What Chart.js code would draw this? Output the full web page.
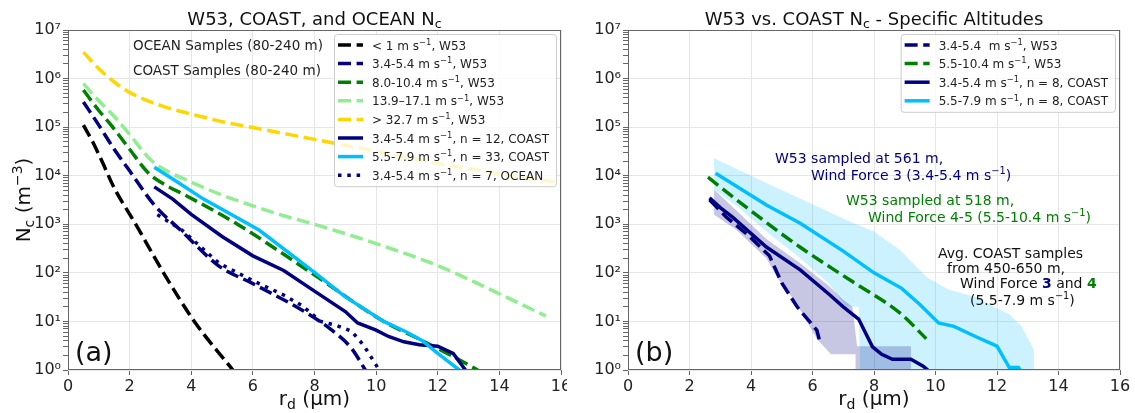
<!DOCTYPE html>
<html lang="en">
<head>
<meta charset="UTF-8">
<title>W53, COAST, and OCEAN Nc</title>
<script src="https://cdn.jsdelivr.net/npm/chart.js"></script>
<style>
  html, body { margin: 0; padding: 0; background: #fff; }
  body { width: 1135px; height: 413px; overflow: hidden; position: relative; }
  canvas { position: absolute; top: 0; }
  #chartA { left: 0; }
  #chartB { left: 567px; }
</style>
</head>
<body>
<canvas id="chartA" width="567" height="413"></canvas>
<canvas id="chartB" width="568" height="413"></canvas>
<script>
// ---- axes ----
const xTicks = [0, 2, 4, 6, 8, 10, 12, 14, 16];
const decades = [1, 10, 100, 1e3, 1e4, 1e5, 1e6, 1e7];
const yTickLabels = ['10⁰', '10¹', '10²', '10³', '10⁴', '10⁵', '10⁶', '10⁷'];

// ---- (a) W53, COAST and OCEAN, 80-240 m ----
const rdW53lt1 = [0.5, 0.8, 1.1, 1.5, 2.2, 3.1, 4.1, 5.35];
const ncW53lt1 = [1.1e5, 5.0e4, 2.0e4, 5.6e3, 1.0e3, 100, 10, 1];

const rdW53_34 = [0.5, 1.0, 1.5, 2.0, 2.8, 3.7, 4.9, 6.0, 7.6, 8.5, 9.2, 9.65];
const ncW53_34 = [3.3e5, 1.1e5, 3.5e4, 1.26e4, 2.5e3, 710, 138, 60, 17, 7.1, 2.8, 1];

const rdW53_80 = [0.5, 1.0, 1.4, 2.0, 2.6, 3.0, 3.9, 5.5, 7.9, 10.25, 11.5, 12.5, 13.3];
const ncW53_80 = [5.8e5, 2.2e5, 1.1e5, 3.5e4, 1.15e4, 7.4e3, 3.7e3, 1.0e3, 100, 10, 4.0, 1.9, 1];

const rdW53_139 = [0.5, 1.0, 1.5, 2.0, 2.6, 3.0, 4.0, 5.0, 6.0, 7.0, 8.0, 10.0, 12.0, 14.0, 15.5];
const ncW53_139 = [7.9e5, 3.5e5, 1.66e5, 7.1e4, 2.4e4, 1.5e4, 7.4e3, 4.0e3, 2.4e3, 1.5e3, 1.0e3, 400, 141, 37, 13];

const rdW53_327 = [0.5, 1.0, 1.5, 2.0, 3.0, 4.0, 5.0, 6.0, 8.0, 10.0, 12.0, 14.0, 16.0];
const ncW53_327 = [3.5e6, 1.6e6, 8.5e5, 5.2e5, 2.8e5, 1.86e5, 1.3e5, 9.8e4, 5.6e4, 3.2e4, 1.8e4, 1.1e4, 7.1e3];

const rdCoast34 = [2.8, 3.4, 4.0, 5.0, 6.0, 7.0, 8.0, 9.0, 9.4, 10.0, 10.4, 10.9, 11.4, 12.0, 12.5, 12.9];
const ncCoast34 = [5.9e3, 3.3e3, 1.6e3, 560, 224, 112, 42, 16, 9.3, 6.6, 4.9, 3.8, 3.3, 3.1, 2.2, 1];

const rdCoast55 = [2.8, 3.5, 4.4, 6.2, 8.0, 9.0, 10.25, 11.0, 11.5, 12.0, 12.7];
const ncCoast55 = [1.5e4, 7.8e3, 3.3e3, 760, 102, 32, 10, 6.0, 4.0, 2.2, 1];

const rdOcean34 = [2.9, 3.7, 4.9, 6.0, 7.0, 7.6, 8.2, 8.7, 9.2, 9.6, 10.1];
const ncOcean34 = [1580, 760, 158, 69, 35, 21, 10, 8.3, 6.3, 3.2, 1];

// ---- (b) specific altitudes ----
const rdW53b_34 = [2.65, 3.2, 3.97, 4.6, 5.0, 5.5, 6.14, 6.24];
const ncW53b_34 = [3200, 1400, 550, 224, 62, 20, 6.6, 3.8];

const rdW53b_55 = [2.6, 3.97, 5.59, 7.22, 8.85, 9.7];
const ncW53b_55 = [9300, 1950, 340, 71, 14.8, 4.4];

const rdCoastB34 = [2.65, 3.0, 3.4, 4.5, 5.6, 6.5, 7.0, 7.5, 7.95, 8.25, 8.6, 9.2, 9.6, 9.75];
const ncCoastB34 = [3500, 2200, 1400, 340, 115, 38, 20, 11.2, 3.0, 2.1, 1.66, 1.66, 1.2, 1];

const rdCoastB55 = [2.85, 4.5, 5.6, 7.0, 8.0, 8.9, 9.5, 10.1, 10.6, 11.3, 12.0, 12.4, 12.7, 12.75];
const ncCoastB55 = [11200, 2500, 1050, 280, 100, 48, 22, 9.3, 7.9, 4.9, 3.1, 1.12, 1.12, 1];

// shaded ranges: outline goes along the upper edge, then back along the lower edge
const rdRange55 = [2.8, 4.5, 6.0, 7.3, 8.0, 8.85, 9.7, 10.4, 11.3, 11.9, 12.4, 12.8, 13.2, 13.2,
                   7.55, 7.5, 7.1, 6.5, 5.6, 4.5, 3.5, 2.8];
const ncRange55 = [22900, 7100, 2600, 1070, 710, 295, 83, 46, 32, 20, 14, 7.9, 2.6, 1,
                   1, 20, 20, 63, 200, 710, 2500, 5200];
const rdRange34 = [2.8, 3.5, 4.5, 5.6, 6.5, 7.0, 7.3, 7.45, 9.2, 9.2,
                   7.4, 7.4, 6.6, 6.15, 5.45, 4.9, 4.5, 3.5, 2.8];
const ncRange34 = [5200, 2000, 500, 158, 56, 28, 20, 3.1, 3.1, 1,
                   1, 2.1, 2.1, 4.3, 25, 71, 200, 790, 1580];

// ---- styles ----
const DASH = [13, 5.6];
const DOT = [3.5, 5.8];
const FAM = '"DejaVu Sans", sans-serif';
const ST = {
  black:  { color: '#000000', dash: DASH },
  navyD:  { color: '#000080', dash: DASH },
  green:  { color: '#008000', dash: DASH },
  lgreen: { color: '#90ee90', dash: DASH },
  gold:   { color: '#ffd700', dash: DASH },
  navy:   { color: '#000080', dash: [] },
  sky:    { color: '#00bfff', dash: [] },
  navyDot:{ color: '#000080', dash: DOT }
};

function series(xs, ys, st, smooth) {
  return {
    data: xs.map((x, i) => ({ x: x, y: ys[i] })),
    borderColor: st.color,
    borderWidth: 3.5,
    borderDash: st.dash,
    borderCapStyle: 'butt',
    fill: false,
    pointRadius: 0,
    tension: 0,
    cubicInterpolationMode: smooth ? 'monotone' : 'default'
  };
}

function shade(xs, ys, color) {
  return {
    data: xs.map((x, i) => ({ x: x, y: ys[i] })),
    borderWidth: 0,
    backgroundColor: color,
    fill: 'shape',
    pointRadius: 0,
    tension: 0
  };
}

// text with sub/superscripts: parts = [text, kind, color]
function rich(ctx, x, y, parts, size, color, align, measureOnly) {
  const segs = parts.map(p => {
    const k = p[1] || '';
    const s = (k === 'sub' || k === 'sup') ? size * 0.7 : size;
    const font = (k === 'b' ? 'bold ' : '') + s + 'px ' + FAM;
    ctx.font = font;
    return {
      t: p[0], font: font, w: ctx.measureText(p[0]).width,
      dy: k === 'sup' ? -size * 0.4 : (k === 'sub' ? size * 0.18 : 0),
      c: p[2] || color
    };
  });
  const total = segs.reduce((a, s) => a + s.w, 0);
  if (measureOnly) return total;
  let cx = align === 'center' ? x - total / 2 : (align === 'right' ? x - total : x);
  ctx.textAlign = 'left';
  ctx.textBaseline = 'alphabetic';
  segs.forEach(s => {
    ctx.font = s.font;
    ctx.fillStyle = s.c;
    ctx.fillText(s.t, cx, y + s.dy);
    cx += s.w;
  });
  return total;
}

const panelPlugin = {
  id: 'panel',
  afterDatasetsDraw(chart, args, o) {
    const ctx = chart.ctx, a = chart.chartArea;
    ctx.save();
    // frame
    ctx.strokeStyle = '#666';
    ctx.lineWidth = 1;
    ctx.setLineDash([]);
    ctx.strokeRect(a.left + 0.5, a.top + 0.5, a.right - a.left - 1, a.bottom - a.top - 1);

    // legend
    const L = o.legend, fs = 12;
    const tw = Math.max(...L.rows.map(r => rich(ctx, 0, 0, r.label, fs, '#222', 'left', true)));
    const bx1 = a.right - 5, bx0 = bx1 - (38 + tw + 7);
    const by0 = L.y0 - 11, by1 = L.y0 + (L.rows.length - 1) * L.dy + 11;
    ctx.beginPath();
    ctx.roundRect(bx0 + 0.5, by0 + 0.5, bx1 - bx0, by1 - by0, 3);
    ctx.fillStyle = 'rgba(255,255,255,0.8)';
    ctx.fill();
    ctx.strokeStyle = '#cccccc';
    ctx.stroke();
    L.rows.forEach((r, i) => {
      const cy = L.y0 + i * L.dy;
      ctx.beginPath();
      ctx.setLineDash(r.st.dash);
      ctx.lineDashOffset = 0;
      ctx.lineCap = 'butt';
      ctx.strokeStyle = r.st.color;
      ctx.lineWidth = 3.5;
      ctx.moveTo(bx0 + 4, cy);
      ctx.lineTo(bx0 + 29, cy);
      ctx.stroke();
      ctx.setLineDash([]);
      rich(ctx, bx0 + 38, cy + 4.5, r.label, fs, '#222', 'left');
    });

    // free text
    (o.texts || []).forEach(t => rich(ctx, t.x, t.y, t.parts, t.size, t.color, 'left'));

    // titles and axis labels
    const mid = (a.left + a.right) / 2;
    rich(ctx, mid, 25, o.title, 18, '#111', 'center');
    rich(ctx, mid, 405, [['r'], ['d', 'sub'], [' (µm)']], 20, '#111', 'center');
    if (o.ylabel) {
      ctx.save();
      ctx.translate(30, (a.top + a.bottom) / 2);
      ctx.rotate(-Math.PI / 2);
      rich(ctx, 0, 0, [['N'], ['c', 'sub'], [' (m'], ['−3', 'sup'], [')']], 20, '#111', 'center');
      ctx.restore();
    }
    rich(ctx, a.left + 7, 361, [[o.tag]], 27, '#111', 'left');
    ctx.restore();
  }
};

function makeChart(id, datasets, panel, axisLeft, padRight) {
  const tickVals = [];
  for (let k = 0; k < 7; k++) {
    for (let m = 1; m <= 9; m++) tickVals.push(m * decades[k]);
  }
  tickVals.push(1e7);
  return new Chart(document.getElementById(id), {
    type: 'line',
    data: { datasets: datasets },
    options: {
      responsive: false,
      animation: false,
      devicePixelRatio: 1,
      layout: { padding: { top: 30, right: padRight, left: 0, bottom: 0 } },
      plugins: { legend: { display: false }, tooltip: { enabled: false }, panel: panel },
      scales: {
        x: {
          type: 'linear', min: 0, max: 16,
          afterBuildTicks: s => { s.ticks = xTicks.map(v => ({ value: v })); },
          ticks: { font: { family: FAM, size: 16 }, color: '#222', padding: 2, maxRotation: 0, autoSkip: false },
          grid: { color: '#e6e6e6', tickColor: '#666', tickLength: 5 },
          border: { display: false },
          afterFit: s => { s.height = 43; s.paddingLeft = 0; s.paddingRight = 0; }
        },
        y: {
          type: 'logarithmic', min: 1, max: 1e7,
          afterBuildTicks: s => { s.ticks = tickVals.map(v => ({ value: v, major: decades.indexOf(v) >= 0 })); },
          ticks: {
            autoSkip: false, padding: 2, color: '#222',
            font: { family: FAM, size: 16 },
            callback: v => { const i = decades.indexOf(v); return i >= 0 ? yTickLabels[i] : ''; }
          },
          grid: {
            color: c => (c.tick && decades.indexOf(c.tick.value) >= 0) ? '#e6e6e6' : 'rgba(0,0,0,0)',
            tickColor: '#666', tickLength: 5
          },
          border: { display: false },
          afterFit: s => { s.width = axisLeft; s.paddingTop = 0; s.paddingBottom = 0; }
        }
      }
    },
    plugins: [panelPlugin]
  });
}

const sup1 = ['−1', 'sup'];

// (a)
makeChart('chartA', [
  series(rdOcean34, ncOcean34, ST.navyDot, false),
  series(rdCoast55, ncCoast55, ST.sky, false),
  series(rdCoast34, ncCoast34, ST.navy, false),
  series(rdW53_327, ncW53_327, ST.gold, true),
  series(rdW53_139, ncW53_139, ST.lgreen, true),
  series(rdW53_80, ncW53_80, ST.green, true),
  series(rdW53_34, ncW53_34, ST.navyD, true),
  series(rdW53lt1, ncW53lt1, ST.black, true)
], {
  title: [['W53, COAST, and OCEAN N'], ['c', 'sub']],
  ylabel: true,
  tag: '(a)',
  legend: {
    y0: 45, dy: 18.6,
    rows: [
      { st: ST.black,  label: [['< 1 m s'], sup1, [', W53']] },
      { st: ST.navyD,  label: [['3.4-5.4 m s'], sup1, [', W53']] },
      { st: ST.green,  label: [['8.0-10.4 m s'], sup1, [', W53']] },
      { st: ST.lgreen, label: [['13.9–17.1 m s'], sup1, [', W53']] },
      { st: ST.gold,   label: [['> 32.7 m s'], sup1, [', W53']] },
      { st: ST.navy,   label: [['3.4-5.4 m s'], sup1, [', n = 12, COAST']] },
      { st: ST.sky,    label: [['5.5-7.9 m s'], sup1, [', n = 33, COAST']] },
      { st: ST.navyDot,label: [['3.4-5.4 m s'], sup1, [', n = 7, OCEAN']] }
    ]
  },
  texts: [
    { x: 133, y: 50, size: 13.5, color: '#222', parts: [['OCEAN Samples (80-240 m)']] },
    { x: 133, y: 75, size: 13.5, color: '#222', parts: [['COAST Samples (80-240 m)']] }
  ]
}, 68, 6);

// (b) — text positions are in this canvas (page x - 567)
const ox = 567;
makeChart('chartB', [
  series(rdCoastB55, ncCoastB55, ST.sky, false),
  series(rdCoastB34, ncCoastB34, ST.navy, false),
  series(rdW53b_55, ncW53b_55, ST.green, true),
  series(rdW53b_34, ncW53b_34, ST.navyD, false),
  shade(rdRange34, ncRange34, 'rgba(0,0,128,0.22)'),
  shade(rdRange55, ncRange55, 'rgba(0,191,255,0.2)')
], {
  title: [['W53 vs. COAST N'], ['c', 'sub'], [' - Specific Altitudes']],
  ylabel: false,
  tag: '(b)',
  legend: {
    y0: 45, dy: 18.6,
    rows: [
      { st: ST.navyD, label: [['3.4-5.4  m s'], sup1, [', W53']] },
      { st: ST.green, label: [['5.5-10.4 m s'], sup1, [', W53']] },
      { st: ST.navy,  label: [['3.4-5.4 m s'], sup1, [', n = 8, COAST']] },
      { st: ST.sky,   label: [['5.5-7.9 m s'], sup1, [', n = 8, COAST']] }
    ]
  },
  texts: [
    { x: 775 - ox, y: 163, size: 14, color: '#000080', parts: [['W53 sampled at 561 m,']] },
    { x: 811 - ox, y: 180, size: 14, color: '#000080', parts: [['Wind Force 3 (3.4-5.4 m s'], sup1, [')']] },
    { x: 846 - ox, y: 205, size: 14, color: '#008000', parts: [['W53 sampled at 518 m,']] },
    { x: 868 - ox, y: 222, size: 14, color: '#008000', parts: [['Wind Force 4-5 (5.5-10.4 m s'], sup1, [')']] },
    { x: 938 - ox, y: 258, size: 14, color: '#111', parts: [['Avg. COAST samples']] },
    { x: 947 - ox, y: 273, size: 14, color: '#111', parts: [['from 450-650 m,']] },
    { x: 960 - ox, y: 288, size: 14, color: '#111', parts: [['Wind Force '], ['3', 'b', '#000080'], [' and '], ['4', 'b', '#008000']] },
    { x: 970 - ox, y: 305, size: 14, color: '#111', parts: [['(5.5-7.9 m s'], sup1, [')']] }
  ]
}, 61, 15);
</script>
</body>
</html>
